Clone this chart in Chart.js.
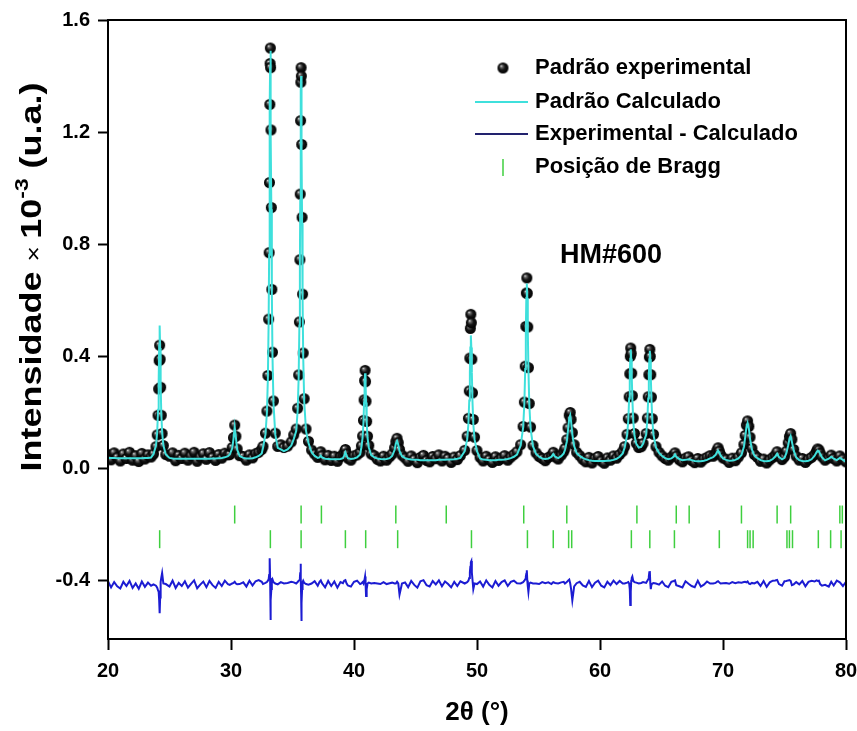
<!DOCTYPE html>
<html>
<head>
<meta charset="utf-8">
<script src="https://cdn.jsdelivr.net/npm/chart.js@4.4.1/dist/chart.umd.min.js"></script>
<style>
  body { margin: 0; background: #fff; }
  canvas { display: block; }
</style>
</head>
<body>
<canvas id="xrdChart" width="857" height="731"></canvas>
<script>
// 2-theta grid (degrees)
const twoTheta = [
  20,20.25,20.5,20.75,21,21.25,21.5,21.75,22,22.25,22.5,22.75,23,23.25,23.5,
  23.7,23.9,24,24.07,24.12,24.16,24.2,24.24,24.28,24.33,24.4,24.5,24.7,
  25,25.25,25.5,25.75,26,26.25,26.5,26.75,27,27.25,27.5,27.75,28,28.25,28.5,28.75,29,29.25,29.5,29.75,
  29.9,30.1,30.2,30.3,30.4,30.5,30.7,
  31,31.25,31.5,31.75,32,32.25,32.5,
  32.6,32.8,32.92,33,33.06,33.1,33.13,33.16,33.18,33.2,33.22,33.25,33.28,33.32,33.37,33.45,33.6,33.8,
  34.05,34.3,34.6,34.9,35.1,
  35.3,35.42,35.5,35.56,35.6,35.63,35.66,35.68,35.7,35.72,35.75,35.78,35.82,35.87,35.95,36.1,36.3,
  36.55,36.8,37.05,37.2,37.3,37.4,37.65,37.9,38.15,38.4,38.65,38.9,39.1,39.2,39.3,39.4,39.5,39.75,40,40.25,40.5,
  40.6,40.7,40.77,40.82,40.86,40.9,40.94,40.98,41.03,41.1,41.2,41.4,
  41.65,41.9,42.15,42.4,42.65,42.9,43.1,43.3,43.4,43.5,43.6,43.7,43.9,
  44.15,44.4,44.65,44.9,45.15,45.4,45.65,45.9,46.15,46.4,46.65,46.9,47.15,47.4,47.65,47.9,48.15,48.4,48.65,
  49,49.2,49.3,49.37,49.42,49.46,49.5,49.54,49.58,49.63,49.7,49.8,50,
  50.25,50.5,50.75,51,51.25,51.5,51.75,52,52.25,52.5,52.75,53,53.25,
  53.55,53.75,53.85,53.92,53.97,54.01,54.05,54.09,54.13,54.18,54.25,54.35,54.55,
  54.8,55.05,55.3,55.55,55.8,56.05,56.2,56.35,56.6,56.85,57.05,57.15,57.3,57.4,57.5,57.58,57.65,57.75,57.9,58.1,
  58.35,58.6,58.85,59.1,59.35,59.6,59.85,60.1,60.35,60.6,60.85,61.1,61.35,61.6,61.85,
  62,62.2,62.3,62.37,62.42,62.46,62.5,62.54,62.58,62.63,62.7,62.8,
  62.95,63.15,63.35,63.5,
  63.75,63.85,63.92,63.97,64.01,64.05,64.09,64.13,64.18,64.25,64.35,64.55,
  64.8,65.05,65.3,65.55,65.8,66,66.1,66.2,66.45,66.7,66.95,67.2,67.45,67.7,67.95,68.2,68.45,68.7,68.95,
  69.2,69.4,69.5,69.6,69.7,69.8,70,
  70.25,70.5,70.75,71,71.25,71.5,71.7,71.8,71.9,72,72.1,72.2,72.35,72.55,
  72.8,73.05,73.3,73.55,73.8,74.05,74.25,74.4,74.55,74.8,75,75.15,75.3,75.4,75.5,75.6,75.75,75.95,
  76.2,76.45,76.7,76.95,77.2,77.45,77.6,77.7,77.8,77.9,78.05,78.3,78.6,78.8,79,79.25,79.5,79.75,80
];

// Padrão experimental (x10^-3)
const observed = [
  0.050,0.031,0.056,0.040,0.027,0.052,0.036,0.058,0.030,0.046,0.025,0.054,0.034,0.049,0.041,
  0.052,0.078,0.120,0.190,0.284,0.385,0.440,0.390,0.290,0.190,0.125,0.082,0.050,
  0.044,0.056,0.028,0.047,0.036,0.055,0.030,0.045,0.058,0.026,0.041,0.053,0.033,0.057,0.040,0.029,0.050,0.037,0.055,0.049,
  0.050,0.075,0.110,0.155,0.115,0.070,0.046,
  0.043,0.030,0.049,0.038,0.053,0.058,0.068,
  0.079,0.126,0.205,0.332,0.533,0.770,1.020,1.299,1.445,1.500,1.430,1.208,0.931,0.639,0.415,0.241,0.126,0.079,
  0.085,0.075,0.080,0.095,0.120,
  0.141,0.215,0.334,0.523,0.745,0.979,1.241,1.378,1.430,1.400,1.156,0.896,0.622,0.412,0.249,0.141,0.097,
  0.066,0.052,0.040,0.050,0.060,0.046,0.031,0.047,0.029,0.044,0.026,0.043,0.048,0.058,0.068,0.052,0.037,0.030,0.045,0.049,0.058,
  0.081,0.116,0.172,0.245,0.314,0.350,0.310,0.240,0.168,0.115,0.082,0.052,
  0.046,0.033,0.027,0.044,0.030,0.042,0.052,0.074,0.096,0.108,0.092,0.068,0.048,
  0.038,0.026,0.045,0.033,0.021,0.040,0.047,0.029,0.024,0.043,0.035,0.049,0.027,0.044,0.036,0.022,0.041,0.032,0.046,
  0.065,0.115,0.179,0.277,0.394,0.500,0.550,0.520,0.390,0.270,0.175,0.112,0.064,
  0.040,0.027,0.044,0.032,0.022,0.042,0.029,0.037,0.046,0.030,0.041,0.050,0.060,
  0.085,0.150,0.237,0.365,0.507,0.626,0.680,0.625,0.505,0.360,0.232,0.148,0.082,
  0.056,0.043,0.036,0.028,0.040,0.046,0.058,0.042,0.034,0.048,0.060,0.072,0.103,0.145,0.190,0.200,0.175,0.128,0.085,0.058,
  0.046,0.033,0.024,0.040,0.020,0.036,0.043,0.027,0.019,0.038,0.030,0.045,0.037,0.050,0.062,
  0.078,0.122,0.178,0.256,0.338,0.400,0.430,0.410,0.340,0.260,0.180,0.125,
  0.090,0.075,0.078,0.090,
  0.125,0.180,0.256,0.335,0.398,0.425,0.400,0.335,0.255,0.178,0.122,0.078,
  0.058,0.045,0.036,0.030,0.041,0.048,0.056,0.044,0.031,0.024,0.037,0.042,0.029,0.021,0.036,0.023,0.034,0.040,0.046,
  0.044,0.052,0.064,0.074,0.062,0.050,0.038,
  0.033,0.022,0.037,0.028,0.041,0.056,0.086,0.118,0.155,0.170,0.150,0.112,0.072,0.050,
  0.040,0.026,0.034,0.020,0.031,0.040,0.048,0.060,0.044,0.032,0.042,0.062,0.092,0.114,0.125,0.104,0.068,0.044,
  0.030,0.036,0.022,0.033,0.040,0.050,0.062,0.070,0.066,0.055,0.042,0.030,0.038,0.048,0.036,0.027,0.045,0.034,0.024
];

// Padrão Calculado
const calculated = [
  0.038,0.038,0.038,0.037,0.037,0.037,0.037,0.037,0.037,0.037,0.037,0.037,0.038,0.038,0.039,
  0.052,0.082,0.130,0.210,0.310,0.440,0.510,0.430,0.300,0.200,0.130,0.083,0.050,
  0.038,0.036,0.035,0.035,0.035,0.035,0.035,0.035,0.035,0.035,0.035,0.035,0.035,0.035,0.036,0.036,0.037,0.038,0.040,0.044,
  0.050,0.072,0.105,0.148,0.110,0.068,0.045,
  0.038,0.036,0.036,0.037,0.040,0.045,0.054,
  0.074,0.121,0.200,0.326,0.527,0.763,1.012,1.289,1.435,1.490,1.435,1.200,0.925,0.632,0.409,0.236,0.121,0.074,
  0.068,0.062,0.068,0.082,0.105,
  0.134,0.207,0.324,0.510,0.728,0.957,1.214,1.349,1.400,1.349,1.131,0.875,0.606,0.401,0.241,0.134,0.091,
  0.058,0.045,0.038,0.040,0.046,0.040,0.035,0.034,0.033,0.033,0.033,0.034,0.037,0.046,0.058,0.046,0.037,0.034,0.036,0.040,0.050,
  0.076,0.110,0.165,0.236,0.305,0.340,0.305,0.236,0.165,0.110,0.076,0.048,
  0.040,0.036,0.034,0.033,0.034,0.037,0.045,0.066,0.089,0.098,0.085,0.062,0.044,
  0.037,0.034,0.032,0.031,0.031,0.030,0.030,0.030,0.030,0.030,0.030,0.031,0.031,0.031,0.032,0.032,0.033,0.035,0.038,
  0.062,0.104,0.159,0.243,0.343,0.432,0.475,0.432,0.343,0.243,0.159,0.104,0.062,
  0.036,0.032,0.031,0.030,0.030,0.030,0.031,0.031,0.032,0.034,0.037,0.042,0.050,
  0.082,0.146,0.231,0.355,0.492,0.608,0.660,0.608,0.492,0.355,0.231,0.146,0.080,
  0.052,0.042,0.036,0.034,0.036,0.042,0.052,0.042,0.037,0.044,0.054,0.066,0.096,0.137,0.180,0.190,0.167,0.122,0.080,0.055,
  0.045,0.038,0.033,0.030,0.028,0.027,0.027,0.027,0.027,0.028,0.029,0.031,0.035,0.042,0.054,
  0.074,0.118,0.172,0.250,0.330,0.392,0.425,0.392,0.330,0.250,0.172,0.118,
  0.088,0.075,0.077,0.088,
  0.120,0.175,0.250,0.328,0.390,0.420,0.390,0.328,0.250,0.175,0.120,0.075,
  0.056,0.045,0.037,0.033,0.036,0.043,0.050,0.042,0.034,0.030,0.031,0.033,0.030,0.027,0.026,0.026,0.028,0.031,0.036,
  0.041,0.049,0.058,0.064,0.057,0.047,0.036,
  0.031,0.028,0.029,0.031,0.036,0.048,0.078,0.110,0.146,0.162,0.143,0.106,0.068,0.046,
  0.037,0.030,0.027,0.026,0.028,0.034,0.043,0.053,0.041,0.033,0.038,0.055,0.083,0.105,0.116,0.096,0.064,0.040,
  0.030,0.027,0.026,0.028,0.033,0.046,0.058,0.064,0.061,0.052,0.040,0.029,0.035,0.042,0.035,0.030,0.038,0.031,0.024
];

// Experimental - Calculado (plotted with offset)
const difference = [
  -0.402,-0.424,-0.405,-0.420,-0.428,-0.404,-0.419,-0.401,-0.426,-0.410,-0.429,-0.403,-0.422,-0.407,-0.418,
  -0.413,-0.418,-0.425,-0.435,-0.440,-0.470,-0.516,-0.460,-0.405,-0.390,-0.373,-0.410,-0.412,
  -0.421,-0.400,-0.426,-0.408,-0.419,-0.402,-0.425,-0.411,-0.399,-0.427,-0.414,-0.403,-0.423,-0.401,-0.416,-0.426,-0.404,-0.419,-0.400,-0.412,
  -0.415,-0.410,-0.408,-0.404,-0.410,-0.413,-0.412,
  -0.406,-0.421,-0.400,-0.417,-0.402,-0.398,-0.404,
  -0.412,-0.408,-0.405,-0.400,-0.395,-0.380,-0.360,-0.320,-0.390,-0.450,-0.540,-0.470,-0.430,-0.400,-0.395,-0.405,-0.410,-0.413,
  -0.405,-0.410,-0.408,-0.404,-0.406,
  -0.410,-0.405,-0.400,-0.398,-0.390,-0.370,-0.340,-0.390,-0.450,-0.544,-0.480,-0.430,-0.405,-0.400,-0.408,-0.412,-0.414,
  -0.410,-0.402,-0.418,-0.404,-0.399,-0.409,-0.424,-0.401,-0.419,-0.403,-0.425,-0.405,-0.409,-0.400,-0.398,-0.410,-0.417,-0.421,-0.404,-0.400,-0.412,
  -0.410,-0.405,-0.410,-0.400,-0.395,-0.385,-0.410,-0.455,-0.430,-0.410,-0.407,-0.410,
  -0.408,-0.410,-0.412,-0.405,-0.412,-0.409,-0.407,-0.410,-0.410,-0.404,-0.410,-0.450,-0.410,
  -0.406,-0.423,-0.401,-0.415,-0.425,-0.402,-0.398,-0.416,-0.421,-0.401,-0.413,-0.399,-0.420,-0.403,-0.412,-0.424,-0.404,-0.419,-0.402,
  -0.410,-0.405,-0.400,-0.390,-0.370,-0.350,-0.334,-0.330,-0.370,-0.395,-0.430,-0.410,-0.412,
  -0.403,-0.421,-0.399,-0.415,-0.424,-0.401,-0.418,-0.405,-0.399,-0.419,-0.404,-0.400,-0.409,
  -0.410,-0.405,-0.400,-0.395,-0.385,-0.375,-0.363,-0.400,-0.420,-0.440,-0.410,-0.407,-0.410,
  -0.410,-0.412,-0.405,-0.409,-0.406,-0.412,-0.405,-0.408,-0.410,-0.406,-0.404,-0.410,-0.405,-0.400,-0.396,-0.410,-0.430,-0.470,-0.420,-0.409,
  -0.404,-0.417,-0.422,-0.401,-0.423,-0.407,-0.400,-0.418,-0.424,-0.404,-0.416,-0.400,-0.412,-0.401,-0.410,
  -0.410,-0.407,-0.405,-0.410,-0.430,-0.487,-0.440,-0.400,-0.390,-0.385,-0.400,-0.405,
  -0.407,-0.410,-0.408,-0.405,
  -0.408,-0.400,-0.395,-0.385,-0.370,-0.366,-0.410,-0.430,-0.415,-0.410,-0.408,-0.410,
  -0.414,-0.403,-0.418,-0.423,-0.404,-0.401,-0.399,-0.416,-0.420,-0.424,-0.402,-0.411,-0.419,-0.423,-0.400,-0.421,-0.414,-0.403,-0.410,
  -0.410,-0.408,-0.404,-0.402,-0.406,-0.410,-0.409,
  -0.408,-0.411,-0.405,-0.409,-0.406,-0.407,-0.405,-0.404,-0.406,-0.403,-0.410,-0.412,-0.408,-0.410,
  -0.404,-0.419,-0.401,-0.422,-0.406,-0.400,-0.399,-0.397,-0.412,-0.418,-0.402,-0.401,-0.399,-0.398,-0.401,-0.416,-0.413,-0.405,
  -0.413,-0.401,-0.420,-0.404,-0.400,-0.403,-0.399,-0.401,-0.400,-0.412,-0.418,-0.415,-0.421,-0.404,-0.417,-0.400,-0.406,-0.419,-0.404
];

// Posição de Bragg, two phases (upper and lower rows)
const braggUpper = [30.3, 35.7, 37.35, 43.4, 47.5, 53.8, 57.3, 63.0, 66.2, 67.25, 71.5, 74.4, 75.5, 79.5, 79.7];
const braggLower = [24.2, 33.2, 35.7, 39.3, 40.95, 43.55, 49.55, 54.1, 56.2, 57.45, 57.7, 62.55, 64.05, 66.05,
                    69.7, 72.0, 72.2, 72.45, 75.2, 75.4, 75.65, 77.75, 78.75, 79.6];
const braggUpperLevel = -0.164;
const braggLowerLevel = -0.252;

const yTicks = [-0.4, 0, 0.4, 0.8, 1.2, 1.6];
const xTicks = [20, 30, 40, 50, 60, 70, 80];

const FONT = "'Liberation Sans', Arial, Helvetica, sans-serif";
const CYAN = '#3fe0dc';
const BLUE = '#1c1cd2';
const NAVY = '#22226e';
const GREEN = '#3fcf3f';

// black shaded sphere used as marker
function makeSphere(r) {
  const c = document.createElement('canvas');
  c.width = c.height = r * 2 + 2;
  const g = c.getContext('2d');
  const cx = r + 1, cy = r + 1;
  const grad = g.createRadialGradient(cx - r * 0.35, cy - r * 0.4, 0, cx, cy, r);
  grad.addColorStop(0, '#f2f2f2');
  grad.addColorStop(0.22, '#6a6a6a');
  grad.addColorStop(0.55, '#151515');
  grad.addColorStop(1, '#000');
  g.fillStyle = grad;
  g.beginPath();
  g.arc(cx, cy, r, 0, Math.PI * 2);
  g.fill();
  return c;
}
const sphere = makeSphere(5.5);

const toPoints = (xs, ys) => xs.map((x, i) => ({ x: x, y: ys[i] }));

const decor = {
  id: 'decor',
  afterDraw(chart) {
    const { ctx, chartArea: a } = chart;
    ctx.save();
    // frame
    ctx.strokeStyle = '#000';
    ctx.lineWidth = 2;
    ctx.strokeRect(a.left, a.top, a.right - a.left, a.bottom - a.top);

    // legend
    ctx.fillStyle = '#000';
    ctx.font = 'bold 22px ' + FONT;
    ctx.textBaseline = 'middle';
    ctx.textAlign = 'left';
    const lx = 535;
    ctx.drawImage(sphere, 503 - sphere.width / 2, 68 - sphere.height / 2);
    ctx.fillText('Padrão experimental', lx, 68);
    ctx.lineWidth = 2;
    ctx.strokeStyle = CYAN;
    ctx.beginPath(); ctx.moveTo(475, 102); ctx.lineTo(528, 102); ctx.stroke();
    ctx.fillText('Padrão Calculado', lx, 102);
    ctx.strokeStyle = NAVY;
    ctx.beginPath(); ctx.moveTo(475, 134); ctx.lineTo(528, 134); ctx.stroke();
    ctx.fillText('Experimental - Calculado', lx, 134);
    ctx.strokeStyle = GREEN;
    ctx.lineWidth = 1.5;
    ctx.beginPath(); ctx.moveTo(503, 159); ctx.lineTo(503, 176); ctx.stroke();
    ctx.fillText('Posição de Bragg', lx, 167);

    // sample label
    ctx.font = 'bold 27px ' + FONT;
    ctx.fillText('HM#600', 560, 256);

    // x title
    ctx.font = 'bold 26px ' + FONT;
    ctx.textAlign = 'center';
    ctx.fillText('2θ (°)', (a.left + a.right) / 2, 713);

    // y title with superscript, stretched along the text like the original
    ctx.translate(31, 277);
    ctx.rotate(-Math.PI / 2);
    ctx.scale(1.2, 1);
    const parts = [
      { t: 'Intensidade ', f: 'bold 30px ' + FONT, dy: 0 },
      { t: '× ', f: '22px ' + FONT, dy: 0 },
      { t: '10', f: 'bold 30px ' + FONT, dy: 0 },
      { t: '-3', f: 'bold 19px ' + FONT, dy: -13 },
      { t: ' (u.a.)', f: 'bold 30px ' + FONT, dy: 0 }
    ];
    let total = 0;
    parts.forEach(p => { ctx.font = p.f; p.w = ctx.measureText(p.t).width; total += p.w; });
    let px = -total / 2;
    ctx.textAlign = 'left';
    ctx.textBaseline = 'alphabetic';
    parts.forEach(p => { ctx.font = p.f; ctx.fillText(p.t, px, 10 + p.dy); px += p.w; });
    ctx.restore();
  }
};

new Chart(document.getElementById('xrdChart'), {
  type: 'scatter',
  data: {
    datasets: [
      {
        label: 'Padrão Calculado',
        data: toPoints(twoTheta, calculated),
        showLine: true,
        borderColor: CYAN,
        borderWidth: 2,
        pointRadius: 0,
        order: 0
      },
      {
        label: 'Padrão experimental',
        data: toPoints(twoTheta, observed),
        showLine: false,
        pointStyle: sphere,
        pointRadius: 5.5,
        order: 1
      },
      {
        label: 'Experimental - Calculado',
        data: toPoints(twoTheta, difference),
        showLine: true,
        borderColor: BLUE,
        borderWidth: 2,
        pointRadius: 0,
        order: 2
      },
      {
        label: 'Posição de Bragg',
        data: braggUpper.map(x => ({ x: x, y: braggUpperLevel }))
          .concat(braggLower.map(x => ({ x: x, y: braggLowerLevel }))),
        showLine: false,
        pointStyle: 'line',
        rotation: 90,
        pointRadius: 9,
        pointBorderWidth: 1.5,
        borderColor: GREEN,
        pointBorderColor: GREEN,
        order: 3
      }
    ]
  },
  options: {
    responsive: false,
    animation: false,
    events: [],
    layout: { padding: { left: 38, top: 18, right: 0, bottom: 0 } },
    plugins: { legend: { display: false }, tooltip: { enabled: false } },
    scales: {
      x: {
        type: 'linear',
        min: 20,
        max: 80,
        afterBuildTicks: s => { s.ticks = xTicks.map(v => ({ value: v })); },
        ticks: { color: '#000', font: { family: FONT, size: 20, weight: 'bold' }, padding: 9, maxRotation: 0 },
        grid: { drawOnChartArea: false, drawTicks: true, tickLength: 11, tickWidth: 2, tickColor: '#000' },
        border: { display: true, color: '#000', width: 2 },
        afterFit: s => { s.height = 92; s.paddingLeft = 0; s.paddingRight = 11; }
      },
      y: {
        min: -0.608,
        max: 1.6,
        afterBuildTicks: s => { s.ticks = yTicks.map(v => ({ value: v })); },
        ticks: { color: '#000', font: { family: FONT, size: 20, weight: 'bold' }, padding: 8,
                 callback: v => v.toFixed(1) },
        grid: { drawOnChartArea: false, drawTicks: true, tickLength: 10, tickWidth: 2, tickColor: '#000' },
        border: { display: true, color: '#000', width: 2 },
        afterFit: s => { s.width = 70; }
      }
    }
  },
  plugins: [decor]
});
</script>
</body>
</html>
